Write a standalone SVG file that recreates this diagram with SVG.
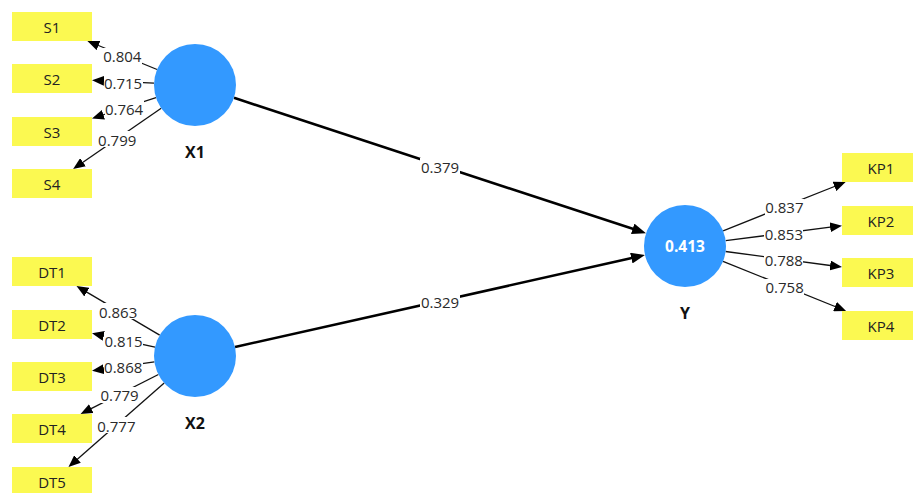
<svg xmlns="http://www.w3.org/2000/svg" width="913" height="493" viewBox="0 0 913 493">
<style>
.box{fill:#fbf951}
.bt{font-family:"Open Sans","Noto Sans","Liberation Sans",sans-serif;font-size:15px;fill:#222;text-anchor:middle;dominant-baseline:central}
.lv{fill:#3399ff}
.ln{font-family:"Open Sans","Noto Sans","Liberation Sans",sans-serif;font-size:16px;font-weight:bold;fill:#111;text-anchor:middle;dominant-baseline:central}
.r2{font-family:"Open Sans","Noto Sans","Liberation Sans",sans-serif;font-size:15.5px;font-weight:bold;fill:#fff;text-anchor:middle;dominant-baseline:central}
.thin{stroke:#111;stroke-width:1.3;fill:none;marker-end:url(#ah)}
.thick{stroke:#000;stroke-width:2.6;fill:none;marker-end:url(#ahb)}
.lb{fill:#fff}
.lt{font-family:"Open Sans","Noto Sans","Liberation Sans",sans-serif;font-size:15px;fill:#2a2a2a;text-anchor:middle;dominant-baseline:central}
</style>
<defs>
<marker id="ah" viewBox="0 0 12 10" refX="4" refY="5" markerWidth="12" markerHeight="10" markerUnits="userSpaceOnUse" orient="auto"><path d="M0,0 L12,5 L0,10 z" fill="#000"/></marker>
<marker id="ahb" viewBox="0 0 14 11" refX="4" refY="5.5" markerWidth="14" markerHeight="11" markerUnits="userSpaceOnUse" orient="auto"><path d="M0,0 L14,5.5 L0,11 z" fill="#000"/></marker>
</defs>
<rect width="913" height="493" fill="#fff"/>
<g id="connectors">
<line class="thin" x1="157.1" y1="69.5" x2="94.8" y2="44.0"/>
<line class="thin" x1="154.0" y1="83.1" x2="100.0" y2="80.7"/>
<line class="thin" x1="156.0" y1="97.7" x2="99.6" y2="116.0"/>
<line class="thin" x1="161.2" y1="108.3" x2="79.7" y2="164.5"/>
<line class="thin" x1="159.7" y1="335.1" x2="83.4" y2="290.1"/>
<line class="thin" x1="155.0" y1="347.2" x2="99.8" y2="335.0"/>
<line class="thin" x1="154.4" y1="361.8" x2="99.9" y2="369.7"/>
<line class="thin" x1="158.4" y1="374.5" x2="87.7" y2="410.4"/>
<line class="thin" x1="164.2" y1="383.0" x2="74.5" y2="461.7"/>
<line class="thin" x1="723.1" y1="230.8" x2="838.2" y2="185.0"/>
<line class="thin" x1="725.7" y1="240.7" x2="834.1" y2="226.7"/>
<line class="thin" x1="725.6" y1="251.5" x2="834.1" y2="266.0"/>
<line class="thin" x1="723.0" y1="261.3" x2="838.7" y2="308.0"/>
<line class="thick" x1="234.0" y1="97.8" x2="636.5" y2="230.1"/>
<line class="thick" x1="235.0" y1="347.0" x2="635.2" y2="257.2"/>
<g id="labels">
<rect class="lb" x="103" y="48" width="39" height="16"/><text class="lt" x="122.3" y="56.3">0.804</text>
<rect class="lb" x="104" y="74" width="39" height="16"/><text class="lt" x="123" y="82.7">0.715</text>
<rect class="lb" x="105" y="100" width="39" height="16"/><text class="lt" x="124" y="109">0.764</text>
<rect class="lb" x="98" y="131" width="39" height="16"/><text class="lt" x="117.2" y="139.5">0.799</text>
<rect class="lb" x="99" y="303" width="39" height="16"/><text class="lt" x="118.1" y="311.5">0.863</text>
<rect class="lb" x="104" y="333" width="39" height="16"/><text class="lt" x="123.5" y="341.2">0.815</text>
<rect class="lb" x="104" y="359" width="39" height="16"/><text class="lt" x="123.2" y="367.2">0.868</text>
<rect class="lb" x="100" y="387" width="39" height="16"/><text class="lt" x="119.5" y="395.2">0.779</text>
<rect class="lb" x="97" y="417" width="39" height="16"/><text class="lt" x="116.4" y="425.8">0.777</text>
<rect class="lb" x="765" y="199" width="39" height="16"/><text class="lt" x="784.4" y="207.3">0.837</text>
<rect class="lb" x="764" y="226" width="39" height="16"/><text class="lt" x="783.9" y="234.2">0.853</text>
<rect class="lb" x="764" y="252" width="39" height="16"/><text class="lt" x="783.8" y="260.2">0.788</text>
<rect class="lb" x="765" y="279" width="39" height="16"/><text class="lt" x="784.6" y="287.1">0.758</text>
<rect class="lb" x="420" y="158" width="40" height="17"/><text class="lt" x="440" y="166.5">0.379</text>
<rect class="lb" x="420" y="293" width="40" height="17"/><text class="lt" x="440" y="302">0.329</text>
</g>
</g>
<g id="X1"><circle class="lv" cx="195" cy="85" r="41"/><text class="ln" x="195" y="152">X1</text></g>
<g id="X2"><circle class="lv" cx="195" cy="356" r="41"/><text class="ln" x="195" y="423">X2</text></g>
<g id="Y"><circle class="lv" cx="685" cy="246" r="41"/><text class="r2" x="685" y="246">0.413</text><text class="ln" x="685" y="313">Y</text></g>
<g id="S1"><rect class="box" x="12" y="12" width="80" height="29"/><text class="bt" x="52" y="26.5">S1</text></g>
<g id="S2"><rect class="box" x="12" y="64" width="80" height="29"/><text class="bt" x="52" y="78.5">S2</text></g>
<g id="S3"><rect class="box" x="12" y="117" width="80" height="29"/><text class="bt" x="52" y="131.5">S3</text></g>
<g id="S4"><rect class="box" x="12" y="169" width="80" height="29"/><text class="bt" x="52" y="183.5">S4</text></g>
<g id="DT1"><rect class="box" x="12" y="257" width="80" height="29"/><text class="bt" x="52" y="271.5">DT1</text></g>
<g id="DT2"><rect class="box" x="12" y="310" width="80" height="29"/><text class="bt" x="52" y="324.5">DT2</text></g>
<g id="DT3"><rect class="box" x="12" y="362" width="80" height="29"/><text class="bt" x="52" y="376.5">DT3</text></g>
<g id="DT4"><rect class="box" x="12" y="414" width="80" height="29"/><text class="bt" x="52" y="428.5">DT4</text></g>
<g id="DT5"><rect class="box" x="12" y="467" width="80" height="29"/><text class="bt" x="52" y="481.5">DT5</text></g>
<g id="KP1"><rect class="box" x="842" y="153" width="80" height="29"/><text class="bt" x="881" y="167.5">KP1</text></g>
<g id="KP2"><rect class="box" x="842" y="206" width="80" height="29"/><text class="bt" x="881" y="220.5">KP2</text></g>
<g id="KP3"><rect class="box" x="842" y="258" width="80" height="29"/><text class="bt" x="881" y="272.5">KP3</text></g>
<g id="KP4"><rect class="box" x="842" y="311" width="80" height="29"/><text class="bt" x="881" y="325.5">KP4</text></g>
</svg>
